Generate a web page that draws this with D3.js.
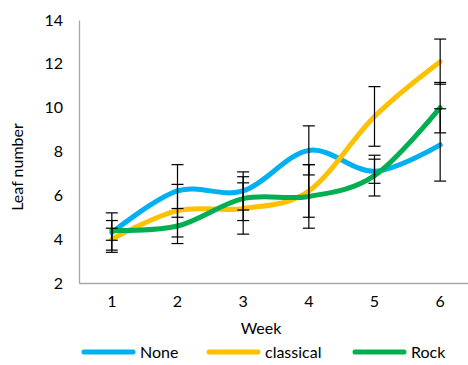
<!DOCTYPE html>
<html>
<head>
<meta charset="utf-8">
<script src="https://cdn.jsdelivr.net/npm/d3@7"></script>
<style>
  body { margin: 0; background: #fff; }
  svg { display: block; overflow: hidden; }
  text { font-family: Lato, "Open Sans", sans-serif; fill: #000; }
</style>
</head>
<body>
<div id="chart"></div>
<script>
var svgWidth = 468;
var svgHeight = 365;

var weeks = ["1", "2", "3", "4", "5", "6"];
var yTicks = [2, 4, 6, 8, 10, 12, 14];

var seriesNames = ["None", "classical", "Rock"];
var seriesColors = ["#00B0F0", "#FFC000", "#00B050"];

var noneValues = [4.3, 6.2, 6.2, 8.05, 7.1, 8.3];
var noneErrors = [0.9, 1.2, 0.87, 1.12, 0.55, 1.65];
var classicalValues = [4.0, 5.3, 5.4, 6.2, 9.6, 12.1];
var classicalErrors = [0.5, 1.2, 1.17, 1.2, 1.36, 1.03];
var rockValues = [4.4, 4.6, 5.85, 5.95, 6.9, 10.0];
var rockErrors = [0.45, 0.8, 1.0, 1.45, 0.93, 1.15];

var margin = { top: 20, right: -5, bottom: 82, left: 79 };
var width = svgWidth - margin.left - margin.right;
var height = svgHeight - margin.top - margin.bottom;

var series = [
    { name: seriesNames[0], color: seriesColors[0], values: noneValues, errors: noneErrors },
    { name: seriesNames[1], color: seriesColors[1], values: classicalValues, errors: classicalErrors },
    { name: seriesNames[2], color: seriesColors[2], values: rockValues, errors: rockErrors }
];

var svg = d3.select("#chart")
    .append("svg")
    .attr("width", svgWidth)
    .attr("height", svgHeight);

var chartGroup = svg.append("g")
    .attr("transform", `translate(${margin.left}, ${margin.top})`);

var xScale = d3.scaleBand()
    .domain(weeks)
    .range([0, width]);

var yScale = d3.scaleLinear()
    .domain([2, 14])
    .range([height, 0]);

var cx = d => xScale(d) + xScale.bandwidth() / 2;

// axes
var leftAxis = d3.axisLeft(yScale).tickValues(yTicks).tickSize(0).tickPadding(16);
var bottomAxis = d3.axisBottom(xScale).tickSize(0).tickPadding(20);

var yAxisG = chartGroup.append("g").call(leftAxis);
var xAxisG = chartGroup.append("g")
    .attr("transform", `translate(0, ${height})`)
    .call(bottomAxis);

[yAxisG, xAxisG].forEach(g => {
    g.select(".domain").attr("stroke", "#a6a6a6").attr("stroke-width", 1.3);
    g.selectAll("text").attr("font-size", "16px").attr("font-family", "Lato, sans-serif").attr("fill", "#000");
});
xAxisG.selectAll("text").attr("dy", "0.25em");

// smoothed lines
var line = d3.line()
    .x((d, i) => cx(weeks[i]))
    .y(d => yScale(d))
    .curve(d3.curveCardinal.tension(0));

series.forEach(s => {
    chartGroup.append("path")
        .datum(s.values)
        .attr("d", line)
        .attr("fill", "none")
        .attr("stroke", s.color)
        .attr("stroke-width", 5)
        .attr("stroke-linecap", "round");
});

// error bars
series.forEach(s => {
    var g = chartGroup.append("g").attr("stroke", "#000").attr("stroke-width", 1.2);
    s.values.forEach((v, i) => {
        var x = cx(weeks[i]);
        var hi = yScale(v + s.errors[i]);
        var lo = yScale(v - s.errors[i]);
        g.append("line").attr("x1", x).attr("x2", x).attr("y1", hi).attr("y2", lo);
        g.append("line").attr("x1", x - 6).attr("x2", x + 6).attr("y1", hi).attr("y2", hi);
        g.append("line").attr("x1", x - 6).attr("x2", x + 6).attr("y1", lo).attr("y2", lo);
    });
});

// axis titles
svg.append("text")
    .attr("transform", "translate(23, 167) rotate(-90)")
    .attr("text-anchor", "middle")
    .attr("font-size", "16px")
    .text("Leaf number");

svg.append("text")
    .attr("x", 261)
    .attr("y", 334)
    .attr("text-anchor", "middle")
    .attr("font-size", "16px")
    .text("Week");

// legend
var legendX = [82, 207, 353];
var legend = svg.append("g");
series.forEach((s, i) => {
    legend.append("line")
        .attr("x1", legendX[i] + 2).attr("x2", legendX[i] + 51)
        .attr("y1", 352).attr("y2", 352)
        .attr("stroke", s.color)
        .attr("stroke-width", 5)
        .attr("stroke-linecap", "round");
    legend.append("text")
        .attr("x", legendX[i] + 58)
        .attr("y", 357.5)
        .attr("font-size", "16px")
        .text(s.name);
});
</script>
</body>
</html>
